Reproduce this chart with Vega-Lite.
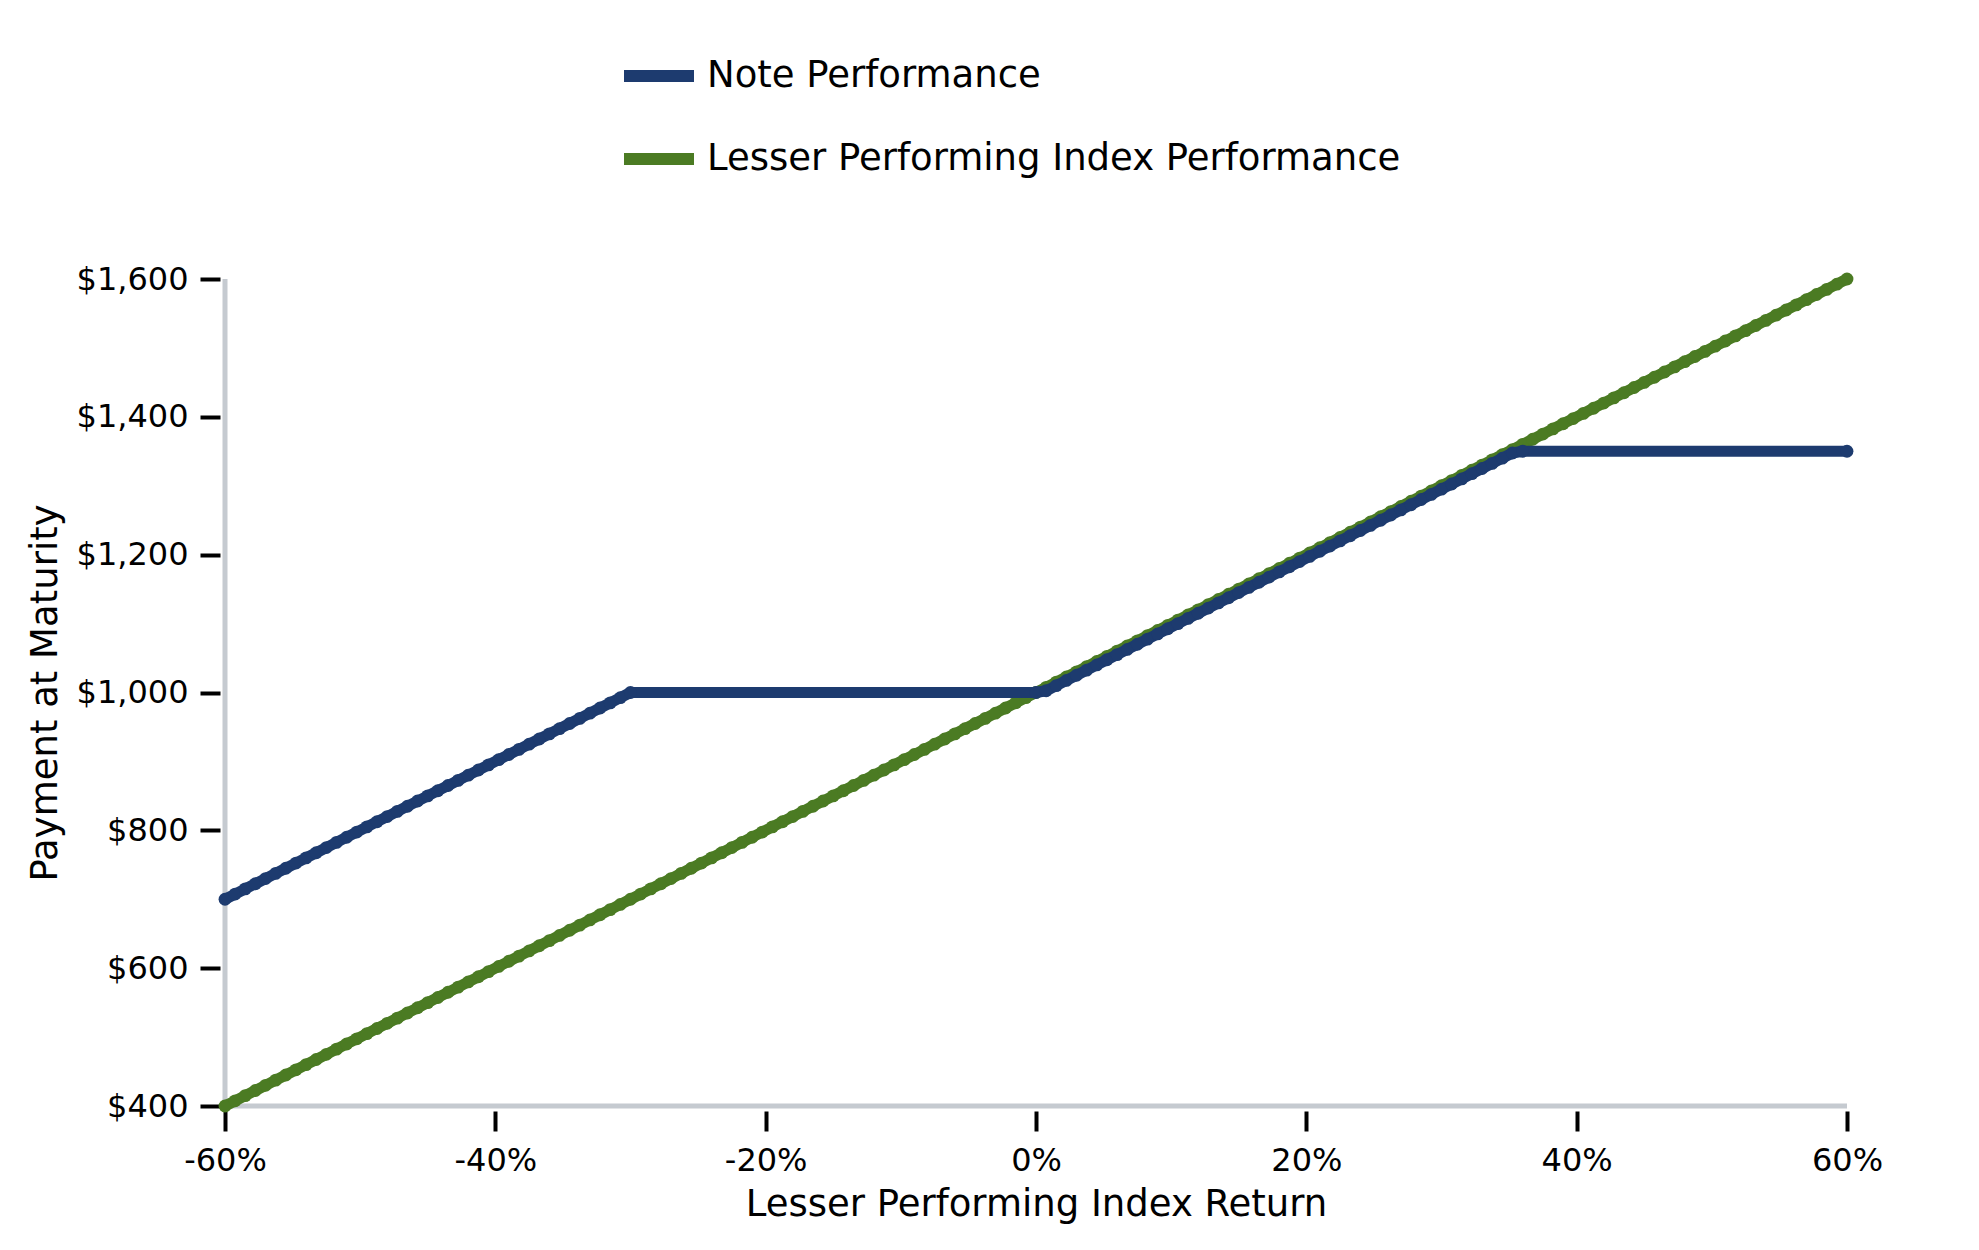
{
  "$schema": "https://vega.github.io/schema/vega-lite/v6.json",
  "autosize": {"type": "none"},
  "padding": {"left": 225, "top": 279, "right": 132, "bottom": 144},
  "width": 1622,
  "height": 827,
  "background": "white",
  "config": {
    "view": {"stroke": null},
    "font": "DejaVu Sans",
    "axis": {
      "grid": false,
      "domain": false,
      "offset": 5,
      "tickColor": "black",
      "tickWidth": 4,
      "tickSize": 20,
      "labelFlush": false,
      "labelFont": "DejaVu Sans",
      "labelFontSize": 32,
      "labelColor": "black",
      "titleFont": "DejaVu Sans",
      "titleFontSize": 37,
      "titleFontWeight": "normal",
      "titleColor": "black"
    }
  },
  "datasets": {
    "note": [
      {"r": -60, "pay": 700}, {"r": -59.25, "pay": 707.5}, {"r": -58.5, "pay": 715}, {"r": -57.75, "pay": 722.5},
      {"r": -57, "pay": 730}, {"r": -56.25, "pay": 737.5}, {"r": -55.5, "pay": 745}, {"r": -54.75, "pay": 752.5},
      {"r": -54, "pay": 760}, {"r": -53.25, "pay": 767.5}, {"r": -52.5, "pay": 775}, {"r": -51.75, "pay": 782.5},
      {"r": -51, "pay": 790}, {"r": -50.25, "pay": 797.5}, {"r": -49.5, "pay": 805}, {"r": -48.75, "pay": 812.5},
      {"r": -48, "pay": 820}, {"r": -47.25, "pay": 827.5}, {"r": -46.5, "pay": 835}, {"r": -45.75, "pay": 842.5},
      {"r": -45, "pay": 850}, {"r": -44.25, "pay": 857.5}, {"r": -43.5, "pay": 865}, {"r": -42.75, "pay": 872.5},
      {"r": -42, "pay": 880}, {"r": -41.25, "pay": 887.5}, {"r": -40.5, "pay": 895}, {"r": -39.75, "pay": 902.5},
      {"r": -39, "pay": 910}, {"r": -38.25, "pay": 917.5}, {"r": -37.5, "pay": 925}, {"r": -36.75, "pay": 932.5},
      {"r": -36, "pay": 940}, {"r": -35.25, "pay": 947.5}, {"r": -34.5, "pay": 955}, {"r": -33.75, "pay": 962.5},
      {"r": -33, "pay": 970}, {"r": -32.25, "pay": 977.5}, {"r": -31.5, "pay": 985}, {"r": -30.75, "pay": 992.5},
      {"r": -30, "pay": 1000},
      {"r": 0, "pay": 1000}, {"r": 0.75, "pay": 1002.5}, {"r": 1.5, "pay": 1010}, {"r": 2.25, "pay": 1017.5},
      {"r": 3, "pay": 1025}, {"r": 3.75, "pay": 1032.5}, {"r": 4.5, "pay": 1040}, {"r": 5.25, "pay": 1047.5},
      {"r": 6, "pay": 1055}, {"r": 6.75, "pay": 1062.5}, {"r": 7.5, "pay": 1070}, {"r": 8.25, "pay": 1077.5},
      {"r": 9, "pay": 1085}, {"r": 9.75, "pay": 1092.5}, {"r": 10.5, "pay": 1100}, {"r": 11.25, "pay": 1107.5},
      {"r": 12, "pay": 1115}, {"r": 12.75, "pay": 1122.5}, {"r": 13.5, "pay": 1130}, {"r": 14.25, "pay": 1137.5},
      {"r": 15, "pay": 1145}, {"r": 15.75, "pay": 1152.5}, {"r": 16.5, "pay": 1160}, {"r": 17.25, "pay": 1167.5},
      {"r": 18, "pay": 1175}, {"r": 18.75, "pay": 1182.5}, {"r": 19.5, "pay": 1190}, {"r": 20.25, "pay": 1197.5},
      {"r": 21, "pay": 1205}, {"r": 21.75, "pay": 1212.5}, {"r": 22.5, "pay": 1220}, {"r": 23.25, "pay": 1227.5},
      {"r": 24, "pay": 1235}, {"r": 24.75, "pay": 1242.5}, {"r": 25.5, "pay": 1250}, {"r": 26.25, "pay": 1257.5},
      {"r": 27, "pay": 1265}, {"r": 27.75, "pay": 1272.5}, {"r": 28.5, "pay": 1280}, {"r": 29.25, "pay": 1287.5},
      {"r": 30, "pay": 1295}, {"r": 30.75, "pay": 1302.5}, {"r": 31.5, "pay": 1310}, {"r": 32.25, "pay": 1317.5},
      {"r": 33, "pay": 1325}, {"r": 33.75, "pay": 1332.5}, {"r": 34.5, "pay": 1340}, {"r": 35.25, "pay": 1347.5},
      {"r": 36, "pay": 1350},
      {"r": 60, "pay": 1350}
    ],
    "index": [
      {"r": -60, "pay": 400}, {"r": -59.25, "pay": 407.5}, {"r": -58.5, "pay": 415}, {"r": -57.75, "pay": 422.5},
      {"r": -57, "pay": 430}, {"r": -56.25, "pay": 437.5}, {"r": -55.5, "pay": 445}, {"r": -54.75, "pay": 452.5},
      {"r": -54, "pay": 460}, {"r": -53.25, "pay": 467.5}, {"r": -52.5, "pay": 475}, {"r": -51.75, "pay": 482.5},
      {"r": -51, "pay": 490}, {"r": -50.25, "pay": 497.5}, {"r": -49.5, "pay": 505}, {"r": -48.75, "pay": 512.5},
      {"r": -48, "pay": 520}, {"r": -47.25, "pay": 527.5}, {"r": -46.5, "pay": 535}, {"r": -45.75, "pay": 542.5},
      {"r": -45, "pay": 550}, {"r": -44.25, "pay": 557.5}, {"r": -43.5, "pay": 565}, {"r": -42.75, "pay": 572.5},
      {"r": -42, "pay": 580}, {"r": -41.25, "pay": 587.5}, {"r": -40.5, "pay": 595}, {"r": -39.75, "pay": 602.5},
      {"r": -39, "pay": 610}, {"r": -38.25, "pay": 617.5}, {"r": -37.5, "pay": 625}, {"r": -36.75, "pay": 632.5},
      {"r": -36, "pay": 640}, {"r": -35.25, "pay": 647.5}, {"r": -34.5, "pay": 655}, {"r": -33.75, "pay": 662.5},
      {"r": -33, "pay": 670}, {"r": -32.25, "pay": 677.5}, {"r": -31.5, "pay": 685}, {"r": -30.75, "pay": 692.5},
      {"r": -30, "pay": 700}, {"r": -29.25, "pay": 707.5}, {"r": -28.5, "pay": 715}, {"r": -27.75, "pay": 722.5},
      {"r": -27, "pay": 730}, {"r": -26.25, "pay": 737.5}, {"r": -25.5, "pay": 745}, {"r": -24.75, "pay": 752.5},
      {"r": -24, "pay": 760}, {"r": -23.25, "pay": 767.5}, {"r": -22.5, "pay": 775}, {"r": -21.75, "pay": 782.5},
      {"r": -21, "pay": 790}, {"r": -20.25, "pay": 797.5}, {"r": -19.5, "pay": 805}, {"r": -18.75, "pay": 812.5},
      {"r": -18, "pay": 820}, {"r": -17.25, "pay": 827.5}, {"r": -16.5, "pay": 835}, {"r": -15.75, "pay": 842.5},
      {"r": -15, "pay": 850}, {"r": -14.25, "pay": 857.5}, {"r": -13.5, "pay": 865}, {"r": -12.75, "pay": 872.5},
      {"r": -12, "pay": 880}, {"r": -11.25, "pay": 887.5}, {"r": -10.5, "pay": 895}, {"r": -9.75, "pay": 902.5},
      {"r": -9, "pay": 910}, {"r": -8.25, "pay": 917.5}, {"r": -7.5, "pay": 925}, {"r": -6.75, "pay": 932.5},
      {"r": -6, "pay": 940}, {"r": -5.25, "pay": 947.5}, {"r": -4.5, "pay": 955}, {"r": -3.75, "pay": 962.5},
      {"r": -3, "pay": 970}, {"r": -2.25, "pay": 977.5}, {"r": -1.5, "pay": 985}, {"r": -0.75, "pay": 992.5},
      {"r": 0, "pay": 1000}, {"r": 0.75, "pay": 1007.5}, {"r": 1.5, "pay": 1015}, {"r": 2.25, "pay": 1022.5},
      {"r": 3, "pay": 1030}, {"r": 3.75, "pay": 1037.5}, {"r": 4.5, "pay": 1045}, {"r": 5.25, "pay": 1052.5},
      {"r": 6, "pay": 1060}, {"r": 6.75, "pay": 1067.5}, {"r": 7.5, "pay": 1075}, {"r": 8.25, "pay": 1082.5},
      {"r": 9, "pay": 1090}, {"r": 9.75, "pay": 1097.5}, {"r": 10.5, "pay": 1105}, {"r": 11.25, "pay": 1112.5},
      {"r": 12, "pay": 1120}, {"r": 12.75, "pay": 1127.5}, {"r": 13.5, "pay": 1135}, {"r": 14.25, "pay": 1142.5},
      {"r": 15, "pay": 1150}, {"r": 15.75, "pay": 1157.5}, {"r": 16.5, "pay": 1165}, {"r": 17.25, "pay": 1172.5},
      {"r": 18, "pay": 1180}, {"r": 18.75, "pay": 1187.5}, {"r": 19.5, "pay": 1195}, {"r": 20.25, "pay": 1202.5},
      {"r": 21, "pay": 1210}, {"r": 21.75, "pay": 1217.5}, {"r": 22.5, "pay": 1225}, {"r": 23.25, "pay": 1232.5},
      {"r": 24, "pay": 1240}, {"r": 24.75, "pay": 1247.5}, {"r": 25.5, "pay": 1255}, {"r": 26.25, "pay": 1262.5},
      {"r": 27, "pay": 1270}, {"r": 27.75, "pay": 1277.5}, {"r": 28.5, "pay": 1285}, {"r": 29.25, "pay": 1292.5},
      {"r": 30, "pay": 1300}, {"r": 30.75, "pay": 1307.5}, {"r": 31.5, "pay": 1315}, {"r": 32.25, "pay": 1322.5},
      {"r": 33, "pay": 1330}, {"r": 33.75, "pay": 1337.5}, {"r": 34.5, "pay": 1345}, {"r": 35.25, "pay": 1352.5},
      {"r": 36, "pay": 1360}, {"r": 36.75, "pay": 1367.5}, {"r": 37.5, "pay": 1375}, {"r": 38.25, "pay": 1382.5},
      {"r": 39, "pay": 1390}, {"r": 39.75, "pay": 1397.5}, {"r": 40.5, "pay": 1405}, {"r": 41.25, "pay": 1412.5},
      {"r": 42, "pay": 1420}, {"r": 42.75, "pay": 1427.5}, {"r": 43.5, "pay": 1435}, {"r": 44.25, "pay": 1442.5},
      {"r": 45, "pay": 1450}, {"r": 45.75, "pay": 1457.5}, {"r": 46.5, "pay": 1465}, {"r": 47.25, "pay": 1472.5},
      {"r": 48, "pay": 1480}, {"r": 48.75, "pay": 1487.5}, {"r": 49.5, "pay": 1495}, {"r": 50.25, "pay": 1502.5},
      {"r": 51, "pay": 1510}, {"r": 51.75, "pay": 1517.5}, {"r": 52.5, "pay": 1525}, {"r": 53.25, "pay": 1532.5},
      {"r": 54, "pay": 1540}, {"r": 54.75, "pay": 1547.5}, {"r": 55.5, "pay": 1555}, {"r": 56.25, "pay": 1562.5},
      {"r": 57, "pay": 1570}, {"r": 57.75, "pay": 1577.5}, {"r": 58.5, "pay": 1585}, {"r": 59.25, "pay": 1592.5},
      {"r": 60, "pay": 1600}
    ]
  },
  "layer": [
    {
      "data": {"values": [{"x": -60, "y": 400, "y2": 1600}]},
      "mark": {"type": "rule", "color": "#c5cad0", "strokeWidth": 5},
      "encoding": {
        "x": {"field": "x", "type": "quantitative"},
        "y": {"field": "y", "type": "quantitative"},
        "y2": {"field": "y2"}
      }
    },
    {
      "data": {"values": [{"x": -60, "x2": 60, "y": 400}]},
      "mark": {"type": "rule", "color": "#c5cad0", "strokeWidth": 5},
      "encoding": {
        "x": {"field": "x", "type": "quantitative"},
        "x2": {"field": "x2"},
        "y": {"field": "y", "type": "quantitative"}
      }
    },
    {
      "data": {"name": "index"},
      "encoding": {
        "x": {
          "field": "r",
          "type": "quantitative",
          "scale": {"domain": [-60, 60], "nice": false, "zero": false},
          "axis": {
            "values": [-60, -40, -20, 0, 20, 40, 60],
            "labelExpr": "datum.value + '%'",
            "labelPadding": 14,
            "titlePadding": 10
          },
          "title": "Lesser Performing Index Return"
        },
        "y": {
          "field": "pay",
          "type": "quantitative",
          "scale": {"domain": [400, 1600], "nice": false, "zero": false},
          "axis": {
            "values": [400, 600, 800, 1000, 1200, 1400, 1600],
            "format": "$,.0f",
            "labelPadding": 12,
            "titlePadding": 12
          },
          "title": "Payment at Maturity"
        },
        "color": {
          "datum": "index",
          "type": "nominal",
          "scale": {"domain": ["note", "index"], "range": ["#1d3b6f", "#4b7b23"]},
          "legend": {
            "orient": "none",
            "legendX": 393,
            "legendY": -244,
            "title": null,
            "symbolType": "stroke",
            "symbolSize": 4900,
            "symbolStrokeWidth": 12,
            "labelFont": "DejaVu Sans",
            "labelFontSize": 37,
            "labelColor": "black",
            "labelOffset": 7,
            "rowPadding": 18,
            "labelLimit": 1000,
            "labelExpr": "datum.value == 'note' ? 'Note Performance' : 'Lesser Performing Index Performance'"
          }
        }
      },
      "layer": [
        {"mark": {"type": "line", "strokeWidth": 11, "strokeCap": "round", "strokeJoin": "round"}},
        {"mark": {"type": "circle", "opacity": 1, "size": 165}}
      ]
    },
    {
      "data": {"name": "note"},
      "encoding": {
        "x": {"field": "r", "type": "quantitative"},
        "y": {"field": "pay", "type": "quantitative"},
        "color": {"datum": "note", "type": "nominal"}
      },
      "layer": [
        {"mark": {"type": "line", "strokeWidth": 11, "strokeCap": "round", "strokeJoin": "round"}},
        {"mark": {"type": "circle", "opacity": 1, "size": 165}}
      ]
    }
  ]
}
